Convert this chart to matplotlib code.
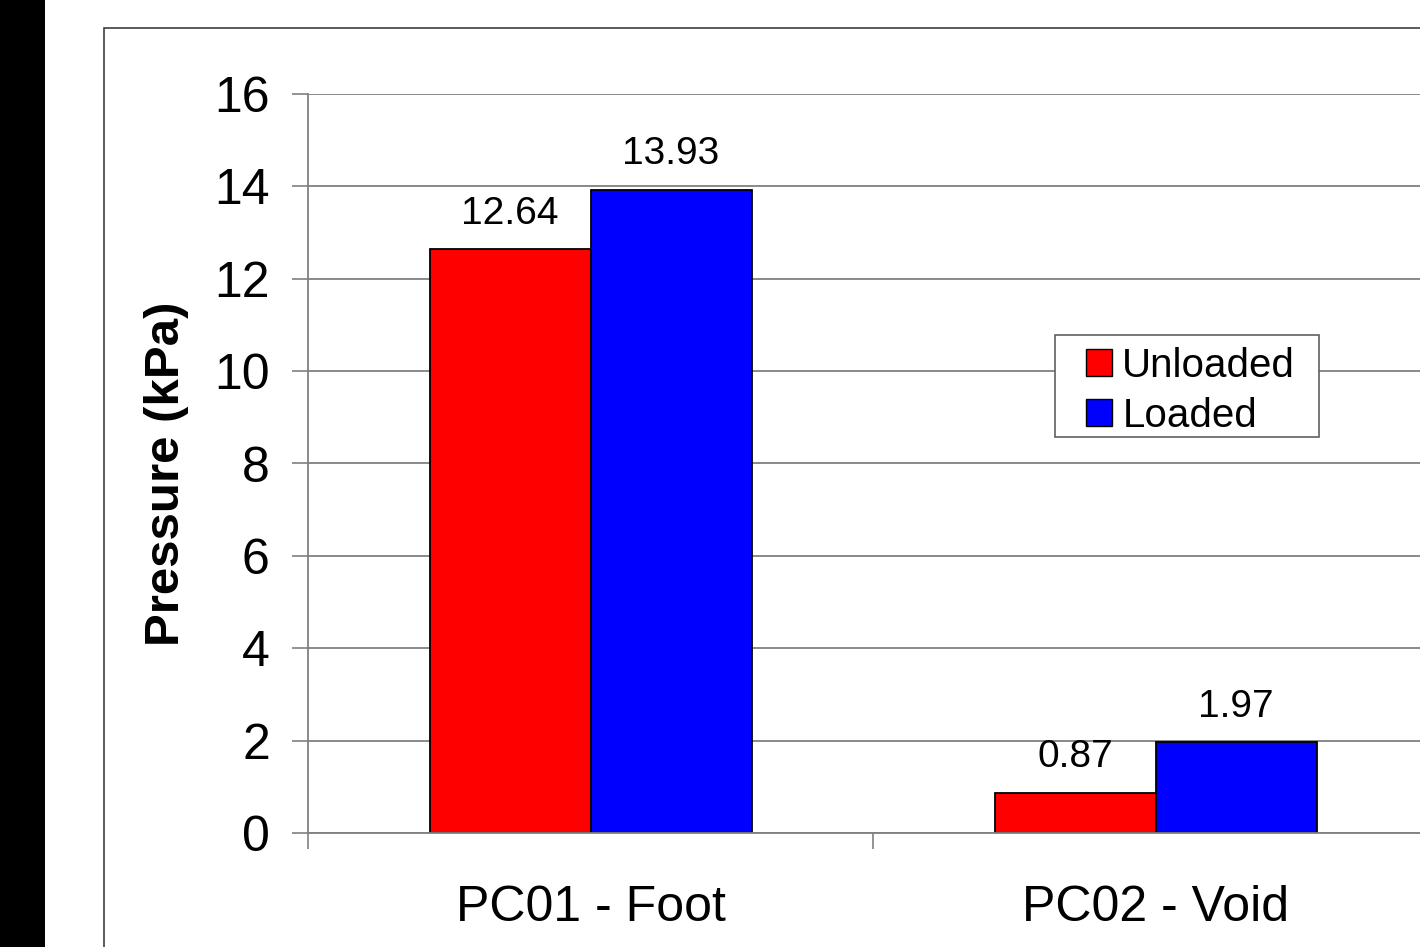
import matplotlib
matplotlib.use("Agg")
import matplotlib.pyplot as plt
from matplotlib.patches import Rectangle, Patch
import numpy as np

plt.rcParams["font.family"] = ["Liberation Sans", "DejaVu Sans"]

categories = ["PC01 - Foot", "PC02 - Void"]
series = ["Unloaded", "Loaded"]
unloaded = [12.64, 0.87]
loaded = [13.93, 1.97]
colors = ["#FF0000", "#0000FF"]
y_ticks = [0, 2, 4, 6, 8, 10, 12, 14, 16]

W, H = 1420, 947
fig = plt.figure(figsize=(W / 100, H / 100), dpi=100)

# black strip + outer chart frame
fig.patches.append(Rectangle((0, 0), 45 / W, 1, transform=fig.transFigure,
                             facecolor="black", edgecolor="none", zorder=-5))
fig.patches.append(Rectangle((104 / W, -0.1), 2, 1.1 - 28 / H, transform=fig.transFigure,
                             facecolor="white", edgecolor="#404040", lw=1.2, zorder=-5))

# plot area: left 308px, y=0 at 833px, y=16 at 94px, category width 565px
cat_w = 565
ax = fig.add_axes([308 / W, (H - 833) / H, (W - 308) / W, (833 - 94) / H])
ax.set_zorder(1)
ax.patch.set_alpha(0)

x = np.arange(len(categories)) + 0.5
bw = 161 / cat_w
vals = [unloaded, loaded]
for i, (name, v) in enumerate(zip(series, vals)):
    pos = x + (i - 0.5) * bw
    ax.bar(pos, v, width=bw, color=colors[i], edgecolor="black", lw=1.3,
           zorder=3, label=name)
    for xp, val in zip(pos, v):
        ax.annotate(f"{val:.2f}", (xp, val), xytext=(0, 12.5), textcoords="offset points",
                    ha="center", va="bottom", fontsize=28)

ax.set_yticks(y_ticks)
ax.yaxis.grid(True, color="#808080", lw=1.3, zorder=0)
ax.set_axisbelow(True)
ax.set_xticks([0, 1, 2])
ax.set_xticklabels([])
ax.set_xticks(x, minor=True)
ax.set_xticklabels(categories, minor=True, fontsize=36)
# limits after the ticks, set_xticks widens the view otherwise
ax.set_xlim(0, (W - 308) / cat_w)
ax.set_ylim(0, 16)
ax.tick_params(axis="x", which="minor", length=0, pad=37.5)
ax.tick_params(axis="x", which="major", length=11.5, width=1.2, color="#808080", direction="out")
ax.tick_params(axis="y", length=11.5, width=1.2, color="#808080", direction="out",
               labelsize=36, pad=16)
for s in ["top", "right"]:
    ax.spines[s].set_visible(False)
for s in ["left", "bottom"]:
    ax.spines[s].set_color("#808080")
    ax.spines[s].set_linewidth(1.3)
ax.spines["bottom"].set_zorder(4)

ax.set_ylabel("Pressure (kPa)", fontsize=35.5, fontweight="bold")
ax.yaxis.set_label_coords((189 - 308) / 1112, (833 - 474) / 739)

# legend: frame drawn by hand, box 1055-1319 x 335-437 px
fig.patches.append(Rectangle((1055 / W, 1 - 437 / H), 264 / W, 102 / H,
                             transform=fig.transFigure, facecolor="white",
                             edgecolor="#606060", lw=1.2, zorder=2))
handles = [Patch(facecolor=c, edgecolor="black", label=n) for c, n in zip(colors, series)]
leg = ax.legend(handles=handles, loc="center left",
                bbox_to_anchor=(1086 / W, 1 - 391 / H), bbox_transform=fig.transFigure,
                fontsize=29, frameon=False, borderpad=0,
                handlelength=0.65, handleheight=0.65, handletextpad=0.25,
                labelspacing=0.3, borderaxespad=0)
leg.set_zorder(3)
fig.legends.append(leg)
ax.legend_ = None

fig.savefig("out.png", dpi=100)
